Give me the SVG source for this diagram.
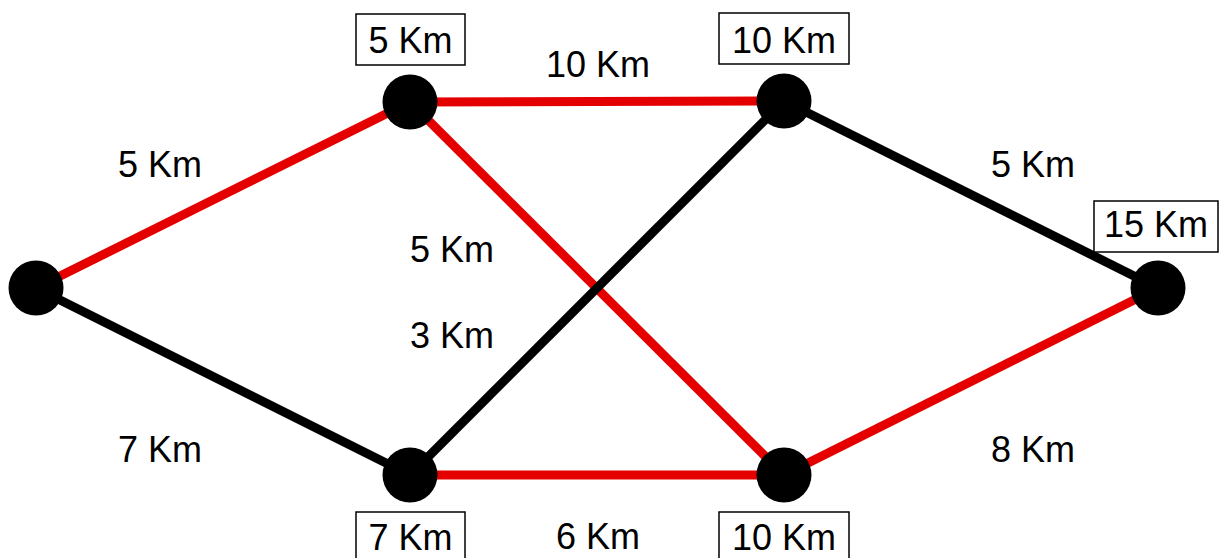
<svg xmlns="http://www.w3.org/2000/svg" width="1223" height="558" viewBox="0 0 1223 558">
<style>
.e{stroke-width:9;stroke-linecap:butt;fill:none}
.r{stroke:#e50000}
.k{stroke:#000}
.n{fill:#000}
.t{font-family:"Liberation Sans",Arial,sans-serif;font-size:36px;fill:#000;text-anchor:middle}
.b{fill:#fff;stroke:#000;stroke-width:1.5}
</style>
<rect width="1223" height="558" fill="#fff"/>
<g id="connectors">
<line class="e r" x1="36" y1="288" x2="410" y2="102"/>
<line class="e r" x1="410" y1="102" x2="784" y2="101"/>
<line class="e r" x1="410" y1="102" x2="784" y2="475"/>
<line class="e r" x1="410" y1="475" x2="784" y2="475"/>
<line class="e r" x1="784" y1="475" x2="1158" y2="288"/>
<line class="e k" x1="36" y1="288" x2="410" y2="475"/>
<line class="e k" x1="410" y1="475" x2="784" y2="101"/>
<line class="e k" x1="784" y1="101" x2="1158" y2="288"/>
</g>
<g id="edge-labels">
<text class="t" x="598" y="77">10 Km</text>
<text class="t" x="160" y="177">5 Km</text>
<text class="t" x="1033" y="177">5 Km</text>
<text class="t" x="452" y="262">5 Km</text>
<text class="t" x="452" y="348">3 Km</text>
<text class="t" x="160" y="462">7 Km</text>
<text class="t" x="1033" y="462">8 Km</text>
<text class="t" x="598" y="549">6 Km</text>
</g>
<g id="node-a"><circle class="n" cx="36" cy="288" r="27.5"/></g>
<g id="node-b"><circle class="n" cx="410" cy="102" r="27.5"/><rect class="b" x="356" y="14" width="109" height="51"/><text class="t" x="410.5" y="53">5 Km</text></g>
<g id="node-c"><circle class="n" cx="784" cy="101" r="27.5"/><rect class="b" x="719" y="13" width="130" height="51"/><text class="t" x="784" y="53">10 Km</text></g>
<g id="node-d"><circle class="n" cx="1158" cy="288" r="27.5"/><rect class="b" x="1094" y="201" width="124" height="51"/><text class="t" x="1156" y="237">15 Km</text></g>
<g id="node-e"><circle class="n" cx="410" cy="475" r="27.5"/><rect class="b" x="356" y="512" width="109" height="51"/><text class="t" x="410.5" y="550">7 Km</text></g>
<g id="node-f"><circle class="n" cx="784" cy="475" r="27.5"/><rect class="b" x="719" y="512" width="130" height="51"/><text class="t" x="784" y="550">10 Km</text></g>
</svg>
